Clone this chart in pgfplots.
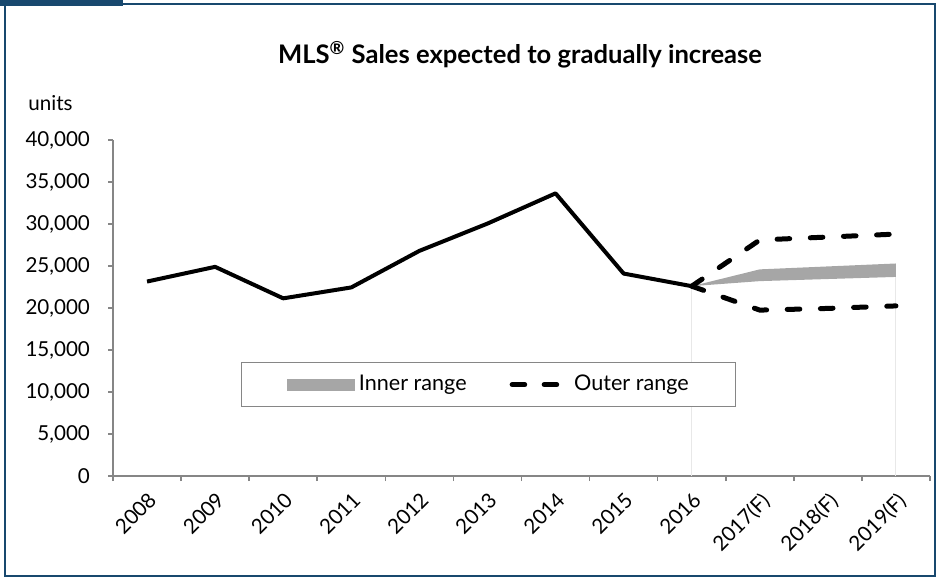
\documentclass[border=0pt]{standalone}
\usepackage{fontspec}
\setmainfont{Lato}
\usepackage{pgfplots}
\pgfplotsset{compat=1.18}
\definecolor{FrameBlue}{RGB}{24,72,110}
\definecolor{RangeGray}{RGB}{166,166,166}
\definecolor{AxisGray}{RGB}{134,134,134}

\begin{document}
\begin{tikzpicture}
\useasboundingbox (0pt,0pt) rectangle (470pt,289.5pt);
% frame and tab
\draw[FrameBlue, line width=1.2pt] (2.5pt,1.5pt) rectangle (467.5pt,287.5pt);
\fill[FrameBlue] (0pt,286.5pt) rectangle (61.5pt,289.5pt);
\node[font=\bfseries\fontsize{12.8}{14}\selectfont] at (260pt,262pt)
  {MLS\textsuperscript{®} Sales expected to gradually increase};
\node[anchor=west, inner sep=0pt, font=\fontsize{10.3}{12}\selectfont] at (14pt,238pt) {units};

\begin{axis}[
scale only axis,
width=408.5pt,
height=168pt,
at={(56.5pt,51.5pt)},
anchor=south west,
xmin=-0.5, xmax=11.5,
ymin=0, ymax=40000,
axis x line*=bottom,
axis y line*=left,
axis line style={AxisGray, line width=0.8pt, -},
xtick={-0.5,0.5,...,11.5},
x tick label as interval,
xticklabels={2008,2009,2010,2011,2012,2013,2014,2015,2016,2017(F),2018(F),2019(F)},
ytick={0,5000,...,40000},
scaled y ticks=false,
yticklabel style={/pgf/number format/1000 sep={,}, /pgf/number format/assume math mode=true, xshift=-5.5pt},
xticklabel style={rotate=45, anchor=north east},
tick align=outside,
major tick length=2.5pt,
tick style={AxisGray, line width=0.8pt},
tick label style={font=\fontsize{10.3}{12}\selectfont},
legend style={at={(0.46,0.272)}, anchor=center, draw=AxisGray, line width=0.5pt,
  fill=white, font=\fontsize{10.8}{12}\selectfont, inner xsep=21.5pt, inner ysep=4.5pt,
  /tikz/every even column/.append style={column sep=19.5pt}},
legend columns=2,
]

\addplot[gray!18, line width=0.5pt, forget plot] coordinates {(8,0)(8,22600)};
\addplot[gray!18, line width=0.5pt, forget plot] coordinates {(11,0)(11,23700)};

\addplot[fill=RangeGray, draw=none,
  legend image code/.code={\path (-1pt,0pt); \fill[RangeGray] (0pt,-3pt) rectangle (34pt,3pt);}]
  coordinates {(8,22600)(9,24600)(10,24950)(11,25300)(11,23700)(10,23450)(9,23200)(8,22600)} -- cycle;
\addlegendentry{Inner range}

\addplot[black, line width=2pt, line join=round, forget plot]
  coordinates {(0,23150)(1,24900)(2,21150)(3,22450)(4,26800)(5,30050)(6,33650)(7,24100)(8,22600)};

\addplot[black, line width=2.5pt, line cap=round, line join=round, dash pattern=on 6.3pt off 10.3pt,
  legend image code/.code={\draw[line width=2.5pt, line cap=round] (1.25pt,0pt) -- (8.25pt,0pt) (17.25pt,0pt) -- (24.25pt,0pt); \path (29pt,0pt);}]
  coordinates {(8,22600)(9,28100)(10,28450)(11,28800)};
\addlegendentry{Outer range}

\addplot[black, line width=2.5pt, line cap=round, line join=round, dash pattern=on 6.3pt off 10.3pt, forget plot]
  coordinates {(8,22600)(9,19750)(10,19950)(11,20250)};

\end{axis}
\end{tikzpicture}
\end{document}
